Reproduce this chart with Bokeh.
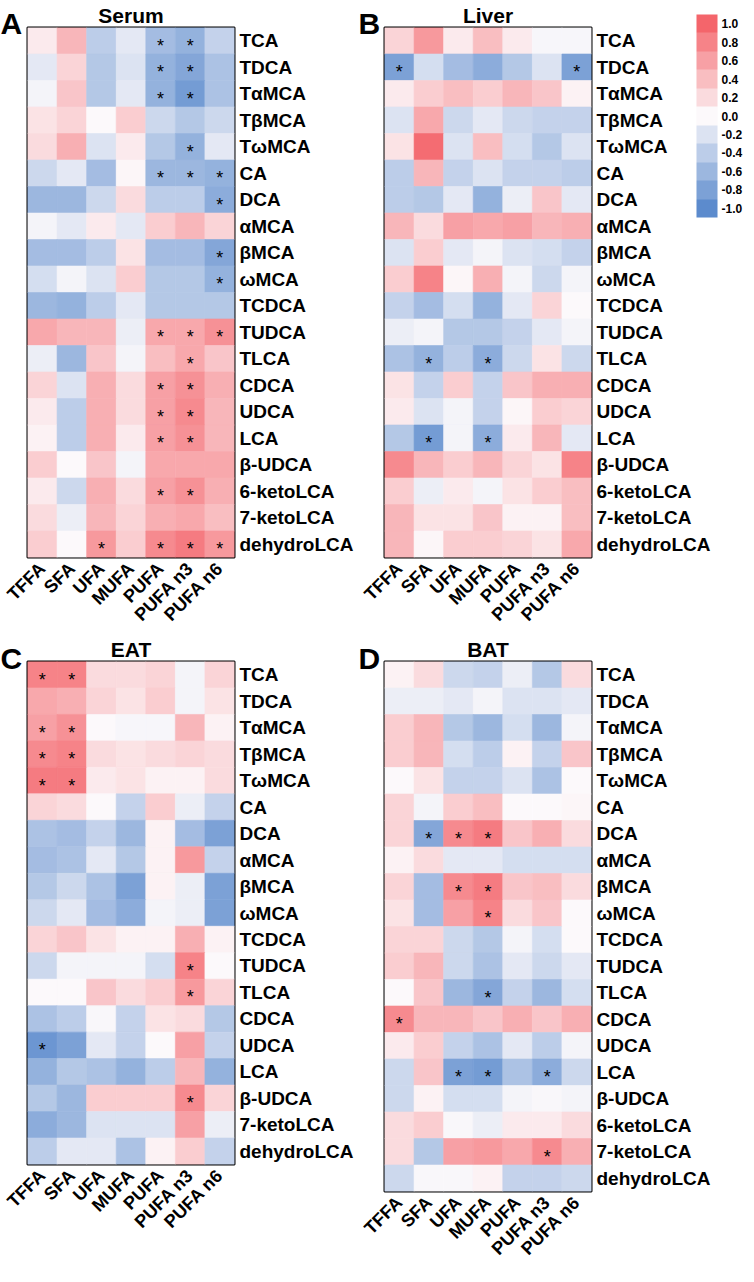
import numpy as np
from math import pi
from bokeh.plotting import figure
from bokeh.models import (ColumnDataSource, LinearColorMapper, ColorBar, FixedTicker,
                          PrintfTickFormatter)
from bokeh.layouts import column, row
from bokeh.embed import file_html
from bokeh.resources import INLINE
from bokeh.core.properties import value

# ---------------- data ----------------
fa_cols = ["TFFA", "SFA", "UFA", "MUFA", "PUFA", "PUFA n3", "PUFA n6"]

ba_rows = ["TCA", "TDCA", "TαMCA", "TβMCA", "TωMCA", "CA", "DCA", "αMCA", "βMCA", "ωMCA",
           "TCDCA", "TUDCA", "TLCA", "CDCA", "UDCA", "LCA", "β-UDCA", "6-ketoLCA",
           "7-ketoLCA", "dehydroLCA"]
ba_rows_eat = ["TCA", "TDCA", "TαMCA", "TβMCA", "TωMCA", "CA", "DCA", "αMCA", "βMCA", "ωMCA",
               "TCDCA", "TUDCA", "TLCA", "CDCA", "UDCA", "LCA", "β-UDCA",
               "7-ketoLCA", "dehydroLCA"]

panel_titles = ["Serum", "Liver", "EAT", "BAT"]
panel_letters = ["A", "B", "C", "D"]

serum_r = [
    [0.10, 0.45, -0.40, -0.15, -0.55, -0.65, -0.35],
    [-0.15, 0.25, -0.45, -0.20, -0.65, -0.75, -0.50],
    [-0.05, 0.35, -0.45, -0.15, -0.65, -0.85, -0.50],
    [0.15, 0.25, 0.00, 0.30, -0.30, -0.45, -0.30],
    [0.20, 0.50, -0.20, 0.10, -0.45, -0.65, -0.15],
    [-0.30, -0.15, -0.55, 0.02, -0.60, -0.60, -0.65],
    [-0.60, -0.60, -0.30, 0.20, -0.40, -0.40, -0.70],
    [-0.05, -0.15, 0.10, -0.15, 0.30, 0.45, 0.25],
    [-0.55, -0.55, -0.40, 0.15, -0.55, -0.55, -0.75],
    [-0.25, -0.05, -0.20, 0.30, -0.45, -0.45, -0.65],
    [-0.60, -0.65, -0.40, -0.15, -0.45, -0.45, -0.45],
    [0.55, 0.45, 0.45, -0.10, 0.55, 0.55, 0.70],
    [-0.10, -0.60, 0.35, -0.05, 0.40, 0.55, 0.35],
    [0.25, -0.20, 0.50, 0.20, 0.60, 0.70, 0.50],
    [0.10, -0.40, 0.50, 0.20, 0.60, 0.75, 0.45],
    [0.05, -0.40, 0.50, 0.10, 0.60, 0.70, 0.45],
    [0.30, 0.00, 0.35, -0.05, 0.55, 0.55, 0.55],
    [0.10, -0.30, 0.50, 0.20, 0.60, 0.70, 0.50],
    [0.20, -0.10, 0.45, 0.25, 0.50, 0.55, 0.40],
    [0.30, 0.00, 0.65, 0.30, 0.75, 0.85, 0.65],
]
serum_sig = [
    [0, 0, 0, 0, 1, 1, 0], [0, 0, 0, 0, 1, 1, 0], [0, 0, 0, 0, 1, 1, 0], [0, 0, 0, 0, 0, 0, 0],
    [0, 0, 0, 0, 0, 1, 0], [0, 0, 0, 0, 1, 1, 1], [0, 0, 0, 0, 0, 0, 1], [0, 0, 0, 0, 0, 0, 0],
    [0, 0, 0, 0, 0, 0, 1], [0, 0, 0, 0, 0, 0, 1], [0, 0, 0, 0, 0, 0, 0], [0, 0, 0, 0, 1, 1, 1],
    [0, 0, 0, 0, 0, 1, 0], [0, 0, 0, 0, 1, 1, 0], [0, 0, 0, 0, 1, 1, 0], [0, 0, 0, 0, 1, 1, 0],
    [0, 0, 0, 0, 0, 0, 0], [0, 0, 0, 0, 1, 1, 0], [0, 0, 0, 0, 0, 0, 0], [0, 0, 1, 0, 1, 1, 1],
]

liver_r = [
    [0.25, 0.65, 0.10, 0.40, 0.10, -0.03, -0.03],
    [-0.80, -0.25, -0.55, -0.70, -0.45, -0.20, -0.80],
    [0.10, 0.30, 0.40, 0.30, 0.45, 0.35, 0.05],
    [-0.20, 0.55, -0.30, -0.15, -0.30, -0.35, -0.35],
    [0.15, 0.95, -0.20, 0.40, -0.25, -0.45, -0.20],
    [-0.40, 0.45, -0.35, -0.20, -0.35, -0.35, -0.40],
    [-0.40, -0.45, -0.15, -0.65, -0.10, 0.35, -0.15],
    [0.45, 0.20, 0.60, 0.55, 0.60, 0.45, 0.50],
    [-0.20, 0.30, -0.15, -0.05, -0.20, -0.25, -0.35],
    [0.30, 0.80, 0.02, 0.50, -0.05, -0.30, -0.05],
    [-0.35, -0.55, -0.25, -0.65, -0.15, 0.25, 0.00],
    [-0.10, -0.05, -0.45, -0.45, -0.35, -0.15, -0.05],
    [-0.50, -0.65, -0.40, -0.70, -0.30, 0.15, -0.30],
    [0.15, -0.35, 0.30, -0.35, 0.35, 0.50, 0.50],
    [0.10, -0.20, -0.05, -0.35, 0.02, 0.30, 0.25],
    [-0.45, -0.85, -0.05, -0.70, 0.10, 0.45, -0.15],
    [0.75, 0.45, 0.30, 0.45, 0.25, 0.15, 0.80],
    [0.30, -0.10, 0.10, -0.05, 0.15, 0.30, 0.40],
    [0.45, 0.15, 0.15, 0.35, 0.05, 0.05, 0.40],
    [0.45, 0.02, 0.30, 0.30, 0.25, 0.15, 0.55],
]
liver_sig = [
    [0, 0, 0, 0, 0, 0, 0], [1, 0, 0, 0, 0, 0, 1], [0, 0, 0, 0, 0, 0, 0], [0, 0, 0, 0, 0, 0, 0],
    [0, 0, 0, 0, 0, 0, 0], [0, 0, 0, 0, 0, 0, 0], [0, 0, 0, 0, 0, 0, 0], [0, 0, 0, 0, 0, 0, 0],
    [0, 0, 0, 0, 0, 0, 0], [0, 0, 0, 0, 0, 0, 0], [0, 0, 0, 0, 0, 0, 0], [0, 0, 0, 0, 0, 0, 0],
    [0, 1, 0, 1, 0, 0, 0], [0, 0, 0, 0, 0, 0, 0], [0, 0, 0, 0, 0, 0, 0], [0, 1, 0, 1, 0, 0, 0],
    [0, 0, 0, 0, 0, 0, 0], [0, 0, 0, 0, 0, 0, 0], [0, 0, 0, 0, 0, 0, 0], [0, 0, 0, 0, 0, 0, 0],
]

eat_r = [
    [0.80, 0.80, 0.20, 0.20, 0.25, -0.05, 0.25],
    [0.55, 0.50, 0.25, 0.15, 0.30, -0.05, 0.15],
    [0.60, 0.70, 0.00, -0.03, -0.03, 0.45, 0.05],
    [0.75, 0.80, 0.20, 0.15, 0.20, 0.25, 0.20],
    [0.85, 0.85, 0.10, 0.15, 0.05, 0.05, 0.20],
    [0.25, 0.20, 0.00, -0.35, 0.30, -0.10, -0.35],
    [-0.50, -0.55, -0.35, -0.60, 0.05, -0.55, -0.80],
    [-0.55, -0.50, -0.15, -0.45, 0.05, 0.65, -0.35],
    [-0.45, -0.30, -0.50, -0.80, 0.05, -0.10, -0.80],
    [-0.30, -0.15, -0.55, -0.70, -0.05, -0.10, -0.80],
    [0.25, 0.35, 0.15, 0.05, 0.05, 0.50, 0.05],
    [-0.30, -0.05, -0.05, -0.05, -0.25, 0.80, 0.00],
    [0.00, 0.00, 0.35, 0.20, 0.30, 0.65, 0.25],
    [-0.50, -0.40, -0.02, -0.35, 0.15, 0.20, -0.45],
    [-0.90, -0.80, -0.15, -0.35, 0.00, 0.60, -0.35],
    [-0.65, -0.45, -0.50, -0.65, -0.40, 0.45, -0.65],
    [-0.45, -0.60, 0.30, 0.30, 0.30, 0.75, 0.25],
    [-0.70, -0.60, -0.20, -0.20, -0.20, 0.60, -0.10],
    [-0.40, -0.15, -0.15, -0.50, 0.05, 0.30, -0.35],
]
eat_sig = [
    [1, 1, 0, 0, 0, 0, 0], [0, 0, 0, 0, 0, 0, 0], [1, 1, 0, 0, 0, 0, 0], [1, 1, 0, 0, 0, 0, 0],
    [1, 1, 0, 0, 0, 0, 0], [0, 0, 0, 0, 0, 0, 0], [0, 0, 0, 0, 0, 0, 0], [0, 0, 0, 0, 0, 0, 0],
    [0, 0, 0, 0, 0, 0, 0], [0, 0, 0, 0, 0, 0, 0], [0, 0, 0, 0, 0, 0, 0], [0, 0, 0, 0, 0, 1, 0],
    [0, 0, 0, 0, 0, 1, 0], [0, 0, 0, 0, 0, 0, 0], [1, 0, 0, 0, 0, 0, 0], [0, 0, 0, 0, 0, 0, 0],
    [0, 0, 0, 0, 0, 1, 0], [0, 0, 0, 0, 0, 0, 0], [0, 0, 0, 0, 0, 0, 0],
]

bat_r = [
    [0.05, 0.20, -0.30, -0.35, -0.10, -0.45, 0.20],
    [-0.10, -0.10, -0.15, -0.05, -0.20, -0.20, -0.15],
    [0.30, 0.45, -0.45, -0.60, -0.25, -0.60, -0.05],
    [0.30, 0.45, -0.25, -0.40, 0.05, -0.35, 0.35],
    [0.00, 0.15, -0.35, -0.35, -0.20, -0.50, 0.00],
    [0.25, -0.05, 0.30, 0.40, 0.00, 0.00, 0.02],
    [0.25, -0.75, 0.75, 0.85, 0.35, 0.50, 0.20],
    [0.05, 0.20, -0.15, -0.15, -0.25, -0.25, -0.25],
    [0.25, -0.55, 0.75, 0.85, 0.35, 0.40, 0.20],
    [0.15, -0.55, 0.60, 0.80, 0.20, 0.35, 0.00],
    [0.25, 0.25, -0.30, -0.45, -0.05, -0.25, 0.00],
    [0.30, 0.45, -0.30, -0.50, -0.15, -0.30, -0.15],
    [0.00, 0.35, -0.60, -0.75, -0.35, -0.60, -0.25],
    [0.75, 0.45, 0.45, 0.35, 0.50, 0.35, 0.50],
    [0.10, 0.30, -0.35, -0.50, -0.15, -0.40, -0.05],
    [-0.30, 0.35, -0.80, -0.85, -0.50, -0.70, -0.30],
    [-0.30, 0.05, -0.25, -0.25, -0.05, -0.02, -0.05],
    [0.20, 0.30, -0.02, -0.10, 0.10, 0.10, 0.20],
    [0.20, -0.45, 0.60, 0.65, 0.55, 0.75, 0.50],
    [-0.30, -0.02, -0.02, 0.05, -0.35, -0.35, -0.30],
]
bat_sig = [
    [0, 0, 0, 0, 0, 0, 0], [0, 0, 0, 0, 0, 0, 0], [0, 0, 0, 0, 0, 0, 0], [0, 0, 0, 0, 0, 0, 0],
    [0, 0, 0, 0, 0, 0, 0], [0, 0, 0, 0, 0, 0, 0], [0, 1, 1, 1, 0, 0, 0], [0, 0, 0, 0, 0, 0, 0],
    [0, 0, 1, 1, 0, 0, 0], [0, 0, 0, 1, 0, 0, 0], [0, 0, 0, 0, 0, 0, 0], [0, 0, 0, 0, 0, 0, 0],
    [0, 0, 0, 1, 0, 0, 0], [1, 0, 0, 0, 0, 0, 0], [0, 0, 0, 0, 0, 0, 0], [0, 0, 1, 1, 0, 1, 0],
    [0, 0, 0, 0, 0, 0, 0], [0, 0, 0, 0, 0, 0, 0], [0, 0, 0, 0, 0, 1, 0], [0, 0, 0, 0, 0, 0, 0],
]

cb_ticks = [-1.0, -0.8, -0.6, -0.4, -0.2, 0.0, 0.2, 0.4, 0.6, 0.8, 1.0]

# ---------------- colours ----------------
BLUE = np.array([92, 139, 205])
WHITE = np.array([252, 249, 251])
RED = np.array([244, 101, 107])


def rgb_at(v):
    if v >= 0:
        c = WHITE + (RED - WHITE) * v
    else:
        c = WHITE + (BLUE - WHITE) * (-v)
    c = np.clip(np.round(c), 0, 255).astype(int)
    return "#%02x%02x%02x" % tuple(c)


fine_palette = [rgb_at(v) for v in np.linspace(-1, 1, 201)]
cell_mapper = LinearColorMapper(palette=fine_palette, low=-1, high=1)
bar_mapper = LinearColorMapper(palette=[rgb_at(t) for t in cb_ticks], low=-1.1, high=1.1)

FONT = "Liberation Sans"
FW = 207
TOP = 26
BOTTOM = 76


def panel(title, rows, vals, sig, frame_h, min_left, min_right):
    p = figure(x_range=fa_cols, y_range=list(reversed(rows)),
               frame_width=FW, frame_height=frame_h,
               min_border_left=min_left, min_border_right=min_right,
               min_border_top=TOP, min_border_bottom=BOTTOM,
               y_axis_location="right", toolbar_location=None, tools="",
               output_backend="svg", title=title)
    xs, ys, vs, sx, sy = [], [], [], [], []
    for i, r in enumerate(rows):
        for j, c in enumerate(fa_cols):
            xs.append(c)
            ys.append(r)
            vs.append(vals[i][j])
            if sig[i][j]:
                sx.append(c)
                sy.append(r)
    src = ColumnDataSource(dict(x=xs, y=ys, v=vs))
    p.rect("x", "y", width=1, height=1, source=src,
           fill_color={"field": "v", "transform": cell_mapper},
           line_color={"field": "v", "transform": cell_mapper}, line_width=0.6)
    ssrc = ColumnDataSource(dict(x=sx, y=sy, t=["*"] * len(sx)))
    p.text("x", "y", text="t", source=ssrc, text_align="center", text_baseline="middle",
           y_offset=5, text_font=value(FONT), text_font_size="18px", text_color="black")

    p.title.align = "center"
    p.title.text_font = FONT
    p.title.text_font_size = "21px"
    p.title.text_font_style = "bold"
    p.title.text_color = "black"
    p.title.standoff = 2

    p.outline_line_color = "black"
    p.outline_line_width = 2
    p.outline_line_alpha = 1
    p.grid.grid_line_color = None
    for ax in (p.xaxis, p.yaxis):
        ax.axis_line_color = None
        ax.major_tick_line_color = None
        ax.minor_tick_line_color = None
        ax.major_tick_out = 0
        ax.major_tick_in = 0
        ax.major_label_text_font = FONT
        ax.major_label_text_font_style = "bold"
        ax.major_label_text_color = "black"
    p.yaxis.major_label_text_font_size = "19px"
    p.xaxis.major_label_text_font_size = "18px"
    p.yaxis.major_label_standoff = 5
    p.xaxis.major_label_standoff = 8
    p.xaxis.major_label_orientation = pi / 4
    return p


def letter(p, txt, x, frame_h, drop):
    # panel letter drawn as the title of an invisible 1px colour bar (not clipped to the frame)
    lm = LinearColorMapper(palette=["#ffffff"], low=0, high=1)
    p.add_layout(ColorBar(color_mapper=lm, orientation="horizontal",
                          location=(x, frame_h - drop), width=1, height=1,
                          padding=0, scale_alpha=0, ticker=FixedTicker(ticks=[]),
                          bar_line_color=None, border_line_color=None,
                          background_fill_color=None, major_tick_line_color=None,
                          title=txt, title_standoff=0, title_text_font=FONT,
                          title_text_font_size="30px", title_text_font_style="bold",
                          title_text_color="black"))


H20 = 530
H19 = 503

pA = panel(panel_titles[0], ba_rows, serum_r, serum_sig, H20, 27, 123)
pB = panel(panel_titles[1], ba_rows, liver_r, liver_sig, H20, 27, 153)
pC = panel(panel_titles[2], ba_rows_eat, eat_r, eat_sig, H19, 27, 123)
pD = panel(panel_titles[3], ba_rows, bat_r, bat_sig, H20, 27, 153)

letter(pA, panel_letters[0], -27, H20, 13)
letter(pB, panel_letters[1], -26, H20, 13)
letter(pC, panel_letters[2], -27, H19, 14)
letter(pD, panel_letters[3], -26, H20, 14)

cb = ColorBar(color_mapper=bar_mapper, location=(312, H20 - 190), width=21, height=203, padding=0,
              ticker=FixedTicker(ticks=cb_ticks), formatter=PrintfTickFormatter(format="%.1f"),
              major_label_text_font=FONT, major_label_text_font_size="12px",
              major_label_text_font_style="bold", major_label_text_color="black",
              label_standoff=4, major_tick_line_color=None, minor_tick_line_color=None,
              bar_line_color=None, border_line_color=None, background_fill_color=None)
pB.add_layout(cb)

layout = column(row(pA, pB), row(pC, pD))
open("out.html", "w").write(file_html(layout, INLINE))
